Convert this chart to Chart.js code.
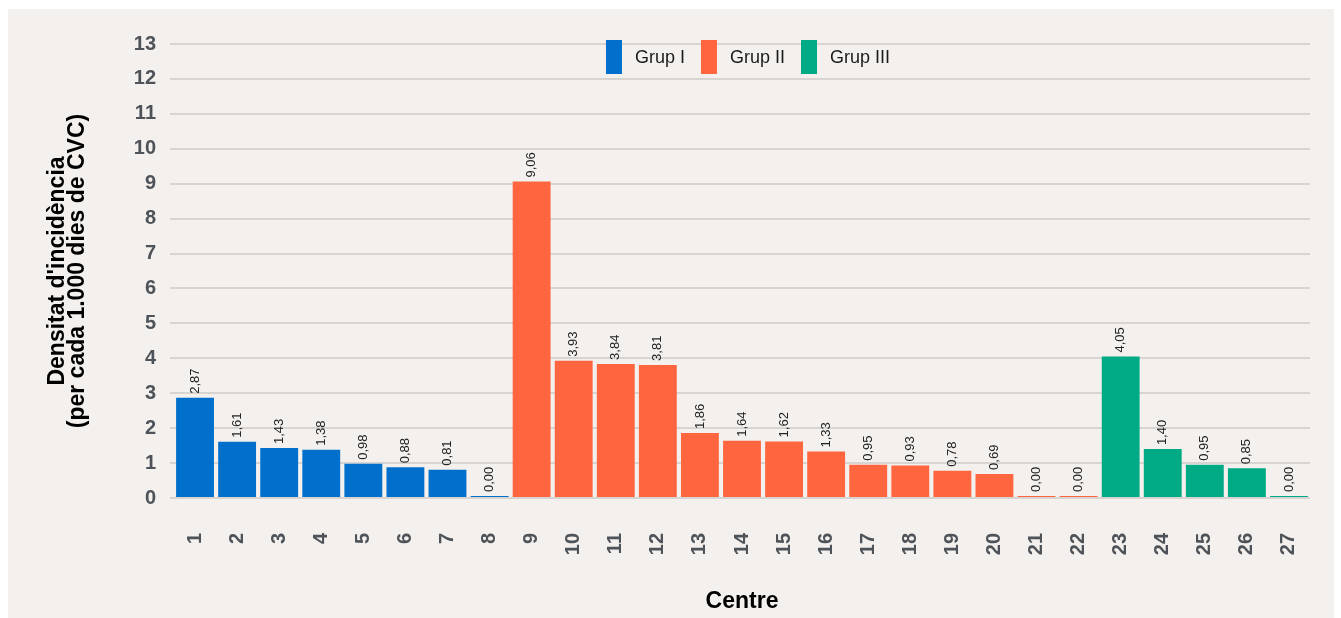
<!DOCTYPE html>
<html lang="ca">
<head>
<meta charset="utf-8">
<title>Densitat d'incidència per centre</title>
<script src="https://cdn.jsdelivr.net/npm/chart.js@4/dist/chart.umd.min.js"></script>
<style>
    html, body { margin: 0; padding: 0; background: #ffffff; }
    #panel {
        position: absolute;
        left: 8px;
        top: 9px;
        width: 1326px;
        height: 609px;
        background: #f4f0ed;
    }
</style>
</head>
<body>
<div id="panel"><canvas id="densitatChart" width="1326" height="609"></canvas></div>
<script>
// dades
const centres = ['1', '2', '3', '4', '5', '6', '7', '8', '9', '10', '11', '12', '13', '14',
    '15', '16', '17', '18', '19', '20', '21', '22', '23', '24', '25', '26', '27'];
const densitat = [2.87, 1.61, 1.43, 1.38, 0.98, 0.88, 0.81, 0.00,
    9.06, 3.93, 3.84, 3.81, 1.86, 1.64, 1.62, 1.33, 0.95, 0.93, 0.78, 0.69, 0.00, 0.00,
    4.05, 1.40, 0.95, 0.85, 0.00];
const grupCentre = ['Grup I', 'Grup I', 'Grup I', 'Grup I', 'Grup I', 'Grup I', 'Grup I', 'Grup I',
    'Grup II', 'Grup II', 'Grup II', 'Grup II', 'Grup II', 'Grup II', 'Grup II', 'Grup II',
    'Grup II', 'Grup II', 'Grup II', 'Grup II', 'Grup II', 'Grup II',
    'Grup III', 'Grup III', 'Grup III', 'Grup III', 'Grup III'];
const grups = ['Grup I', 'Grup II', 'Grup III'];
const colorsGrup = ['#0070cc', '#ff6640', '#00aa84'];
const yTicks = [0, 1, 2, 3, 4, 5, 6, 7, 8, 9, 10, 11, 12, 13];

// etiquetes verticals damunt de cada barra
const valorsBarres = {
    id: 'valorsBarres',
    afterDatasetsDraw(chart) {
        const ctx = chart.ctx;
        ctx.save();
        ctx.font = '13px "Liberation Sans", Arial, sans-serif';
        ctx.fillStyle = '#222222';
        ctx.textAlign = 'left';
        ctx.textBaseline = 'middle';
        chart.data.datasets.forEach((ds, di) => {
            const meta = chart.getDatasetMeta(di);
            meta.data.forEach((bar, i) => {
                const v = ds.data[i];
                if (v === null || v === undefined) return;
                ctx.save();
                ctx.translate(bar.x, bar.y - 4);
                ctx.rotate(-Math.PI / 2);
                ctx.fillText(v.toFixed(2).replace('.', ','), 0, 0);
                ctx.restore();
            });
        });
        ctx.restore();
    }
};

// llegenda a dalt, dins l'àrea del gràfic
const llegendaGrups = {
    id: 'llegendaGrups',
    afterDraw(chart) {
        const ctx = chart.ctx;
        const boxW = 16, boxH = 34, gapText = 13, gapItem = 16;
        const yMid = 48;
        ctx.save();
        ctx.font = '18px "Liberation Sans", Arial, sans-serif';
        ctx.textBaseline = 'middle';
        ctx.textAlign = 'left';
        const items = chart.data.datasets.map(ds => ({
            text: ds.label,
            color: ds.backgroundColor,
            w: ctx.measureText(ds.label).width
        }));
        let total = 0;
        items.forEach((it, k) => {
            total += boxW + gapText + it.w + (k < items.length - 1 ? gapItem : 0);
        });
        let x = 740 - total / 2;
        items.forEach(it => {
            ctx.fillStyle = it.color;
            ctx.fillRect(x, yMid - boxH / 2, boxW, boxH);
            x += boxW + gapText;
            ctx.fillStyle = '#1a1a1a';
            ctx.fillText(it.text, x, yMid + 1);
            x += it.w + gapItem;
        });
        ctx.restore();
    }
};

document.addEventListener('DOMContentLoaded', function () {
    const ctx = document.getElementById('densitatChart').getContext('2d');

    const datasets = grups.map((g, k) => ({
        label: g,
        data: densitat.map((v, i) => grupCentre[i] === g ? v : null),
        backgroundColor: colorsGrup[k],
        borderWidth: 0,
        grouped: false,
        barPercentage: 0.9,
        categoryPercentage: 1,
        minBarLength: 2
    }));

    new Chart(ctx, {
        type: 'bar',
        data: {
            labels: centres,
            datasets: datasets
        },
        options: {
            responsive: false,
            animation: false,
            layout: {
                padding: { left: 0, right: 24, top: 35, bottom: 0 }
            },
            plugins: {
                legend: { display: false },
                tooltip: { enabled: false }
            },
            scales: {
                x: {
                    grid: { display: false, drawTicks: false },
                    border: { display: false },
                    ticks: {
                        autoSkip: false,
                        minRotation: 90,
                        maxRotation: 90,
                        padding: 35,
                        color: '#4d5358',
                        font: { family: '"Liberation Sans", Arial, sans-serif', size: 20, weight: 'bold' }
                    },
                    title: {
                        display: true,
                        text: 'Centre',
                        color: '#000000',
                        padding: { top: 0, bottom: 3 },
                        font: { family: '"Liberation Sans", Arial, sans-serif', size: 23, weight: 'bold' }
                    },
                    afterFit: function (scale) {
                        scale.height = 120;
                        scale.paddingLeft = 0;
                        scale.paddingRight = 0;
                    }
                },
                y: {
                    min: 0,
                    max: 13,
                    afterBuildTicks: function (scale) {
                        scale.ticks = yTicks.map(v => ({ value: v }));
                    },
                    grid: {
                        color: '#d7d4d2',
                        lineWidth: 2,
                        drawTicks: true,
                        tickLength: 4
                    },
                    border: { display: false },
                    ticks: {
                        padding: 14,
                        color: '#4d5358',
                        font: { family: '"Liberation Sans", Arial, sans-serif', size: 20, weight: 'bold' }
                    },
                    title: {
                        display: true,
                        text: ["Densitat d'incidència", '(per cada 1.000 dies de CVC)'],
                        color: '#000000',
                        padding: { top: 39, bottom: 0 },
                        font: { family: '"Liberation Sans", Arial, sans-serif', size: 23, weight: 'bold', lineHeight: 0.9 }
                    },
                    afterFit: function (scale) {
                        scale.width = 166;
                    }
                }
            }
        },
        plugins: [valorsBarres, llegendaGrups]
    });
});
</script>
</body>
</html>
